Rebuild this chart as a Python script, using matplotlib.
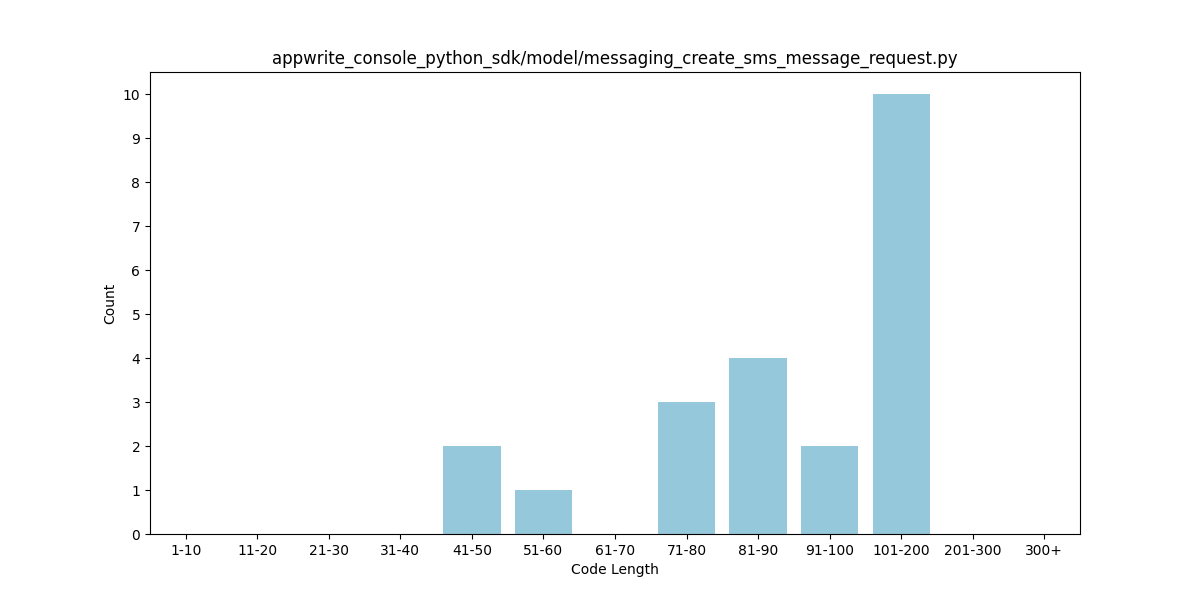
import matplotlib; matplotlib.use("Agg"); import matplotlib.pyplot as plt

TITLE = "appwrite_console_python_sdk/model/messaging_create_sms_message_request.py"
bins = ["1-10", "11-20", "21-30", "31-40", "41-50", "51-60", "61-70",
        "71-80", "81-90", "91-100", "101-200", "201-300", "300+"]
counts = [0, 0, 0, 0, 2, 1, 0, 3, 4, 2, 10, 0, 0]

fig, ax = plt.subplots(figsize=(12, 6), dpi=100)
ax.bar(bins, counts, color="#96c8dc", width=0.8)
ax.set_xlim(-0.5, len(bins) - 0.5)
ax.set_yticks(range(0, 11))
ax.set_xlabel("Code Length"); ax.set_ylabel("Count")
ax.set_title(TITLE)
fig.savefig("out.png", dpi=100)
